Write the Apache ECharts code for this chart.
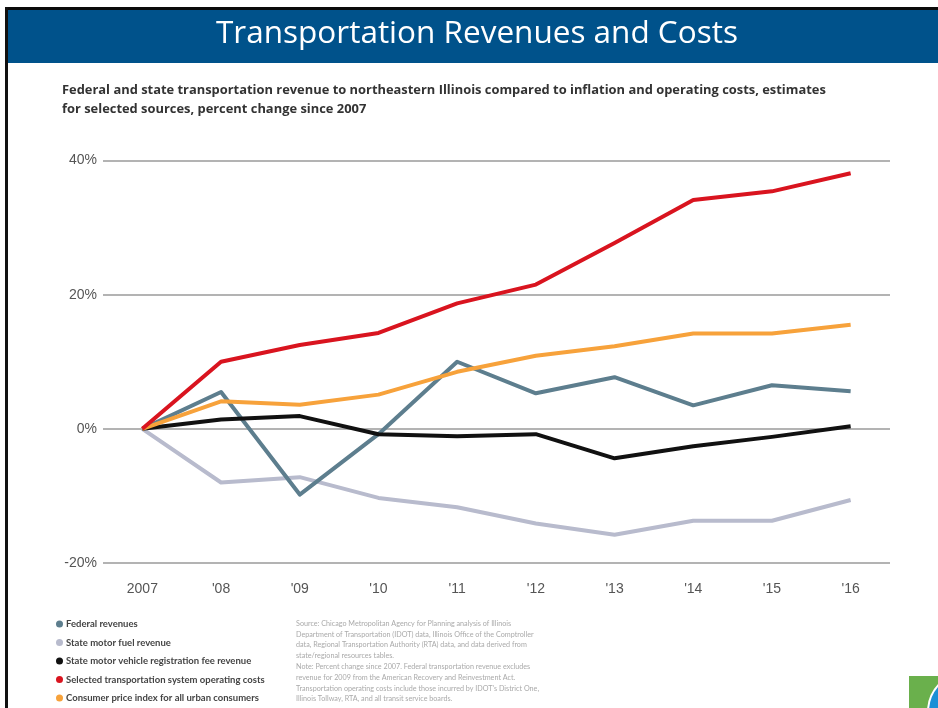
<!DOCTYPE html>
<html>
<head>
<meta charset="utf-8">
<script src="https://cdn.jsdelivr.net/npm/echarts@6/dist/echarts.min.js"></script>
<style>
  html, body { margin: 0; padding: 0; background: #fff; }
  #main-chart { width: 938px; height: 708px; }
</style>
</head>
<body>
<div id="main-chart"></div>
<script>
// years along the bottom
var years = ['2007', '\'08', '\'09', '\'10', '\'11', '\'12', '\'13', '\'14', '\'15', '\'16'];

// percent change since 2007
var federalRevenues = [0, 5.5, -9.8, -0.8, 10.0, 5.3, 7.7, 3.5, 6.5, 5.6];
var fuelRevenue = [0, -8.0, -7.2, -10.3, -11.7, -14.1, -15.8, -13.7, -13.7, -10.6];
var registrationFee = [0, 1.4, 1.9, -0.8, -1.1, -0.8, -4.4, -2.6, -1.2, 0.4];
var operatingCosts = [0, 10.0, 12.5, 14.3, 18.7, 21.5, 27.7, 34.1, 35.4, 38.1];
var cpi = [0, 4.1, 3.6, 5.1, 8.5, 10.9, 12.3, 14.2, 14.2, 15.5];

var seriesNames = [
  'Federal revenues',
  'State motor fuel revenue',
  'State motor vehicle registration fee revenue',
  'Selected transportation system operating costs',
  'Consumer price index for all urban consumers'
];
var seriesColors = ['#5d7e8e', '#b8bbcd', '#111111', '#d9141f', '#f7a23b'];
var seriesData = [federalRevenues, fuelRevenue, registrationFee, operatingCosts, cpi];

var sourceLines = [
  'Source: Chicago Metropolitan Agency for Planning analysis of Illinois',
  'Department of Transportation (IDOT) data, Illinois Office of the Comptroller',
  'data, Regional Transportation Authority (RTA) data, and data derived from',
  'state/regional resources tables.',
  'Note: Percent change since 2007. Federal transportation revenue excludes',
  'revenue for 2009 from the American Recovery and Reinvestment Act.',
  'Transportation operating costs include those incurred by IDOT\'s District One,',
  'Illinois Tollway, RTA, and all transit service boards.'
];

var chartDom = document.getElementById('main-chart');
var myChart = echarts.init(chartDom);

var drawOrder = [1, 0, 2, 4, 3];
var series = [];
for (var k = 0; k < drawOrder.length; k++) {
  var i = drawOrder[k];
  series.push({
    name: seriesNames[i],
    type: 'line',
    data: seriesData[i],
    symbol: 'none',
    z: 2 + k,
    lineStyle: { width: 4, color: seriesColors[i], join: 'round' },
    itemStyle: { color: seriesColors[i] }
  });
}

var option = {
  animation: false,
  backgroundColor: '#fff',
  grid: { left: 103, right: 48, top: 160.5, bottom: 145 },
  legend: {
    data: seriesNames,
    orient: 'vertical',
    left: 56,
    top: 619,
    height: 89,
    padding: 0,
    icon: 'circle',
    itemWidth: 7,
    itemHeight: 7,
    itemGap: 8.5,
    textStyle: { fontSize: 9.5, color: '#444', fontFamily: 'Lato', fontWeight: 'bold', padding: [0, 0, 0, -2] }
  },
  xAxis: {
    type: 'category',
    data: years,
    axisLine: { show: false },
    axisTick: { show: false },
    axisLabel: { color: '#555', fontSize: 14, fontFamily: 'Liberation Sans Narrow, Liberation Sans', margin: 19 }
  },
  yAxis: {
    type: 'value',
    min: -20,
    max: 40,
    interval: 20,
    axisLine: { show: false },
    axisTick: { show: false },
    axisLabel: { color: '#555', fontSize: 14, fontFamily: 'Liberation Sans', margin: 6, formatter: '{value}%' },
    splitLine: { lineStyle: { color: '#9a9a9a', width: 1.6 } }
  },
  graphic: [
    { type: 'rect', shape: { x: 6, y: 7, width: 932, height: 56 }, style: { fill: '#00528b' }, z: 1 },
    { type: 'rect', shape: { x: 6, y: 7, width: 932, height: 3 }, style: { fill: '#0b0b0b' }, z: 2 },
    { type: 'rect', shape: { x: 5, y: 7, width: 3, height: 701 }, style: { fill: '#111' }, z: 2 },
    {
      type: 'text', left: 216, top: 18, z: 3,
      style: { text: 'Transportation Revenues and Costs', fill: '#fff', fontSize: 31.5, fontFamily: 'Open Sans', fontWeight: 'normal' }
    },
    {
      type: 'text', left: 62, top: 81, z: 3,
      style: {
        text: 'Federal and state transportation revenue to northeastern Illinois compared to inflation and operating costs, estimates\nfor selected sources, percent change since 2007',
        fill: '#333', fontSize: 12.9, lineHeight: 19, fontFamily: 'Open Sans', fontWeight: 'bold'
      }
    },
    {
      type: 'text', left: 296, top: 618, z: 3,
      style: { text: sourceLines.join('\n'), fill: '#aaa', fontSize: 7.2, lineHeight: 10.8, fontFamily: 'Lato' }
    },
    { type: 'rect', shape: { x: 909, y: 676, width: 29, height: 32 }, style: { fill: '#6ab04c' }, z: 3 },
    { type: 'circle', shape: { cx: 968, cy: 712, r: 40 }, style: { fill: '#1a8fd6', stroke: '#fff', lineWidth: 2 }, z: 4 }
  ],
  series: series
};

myChart.setOption(option);
</script>
</body>
</html>
